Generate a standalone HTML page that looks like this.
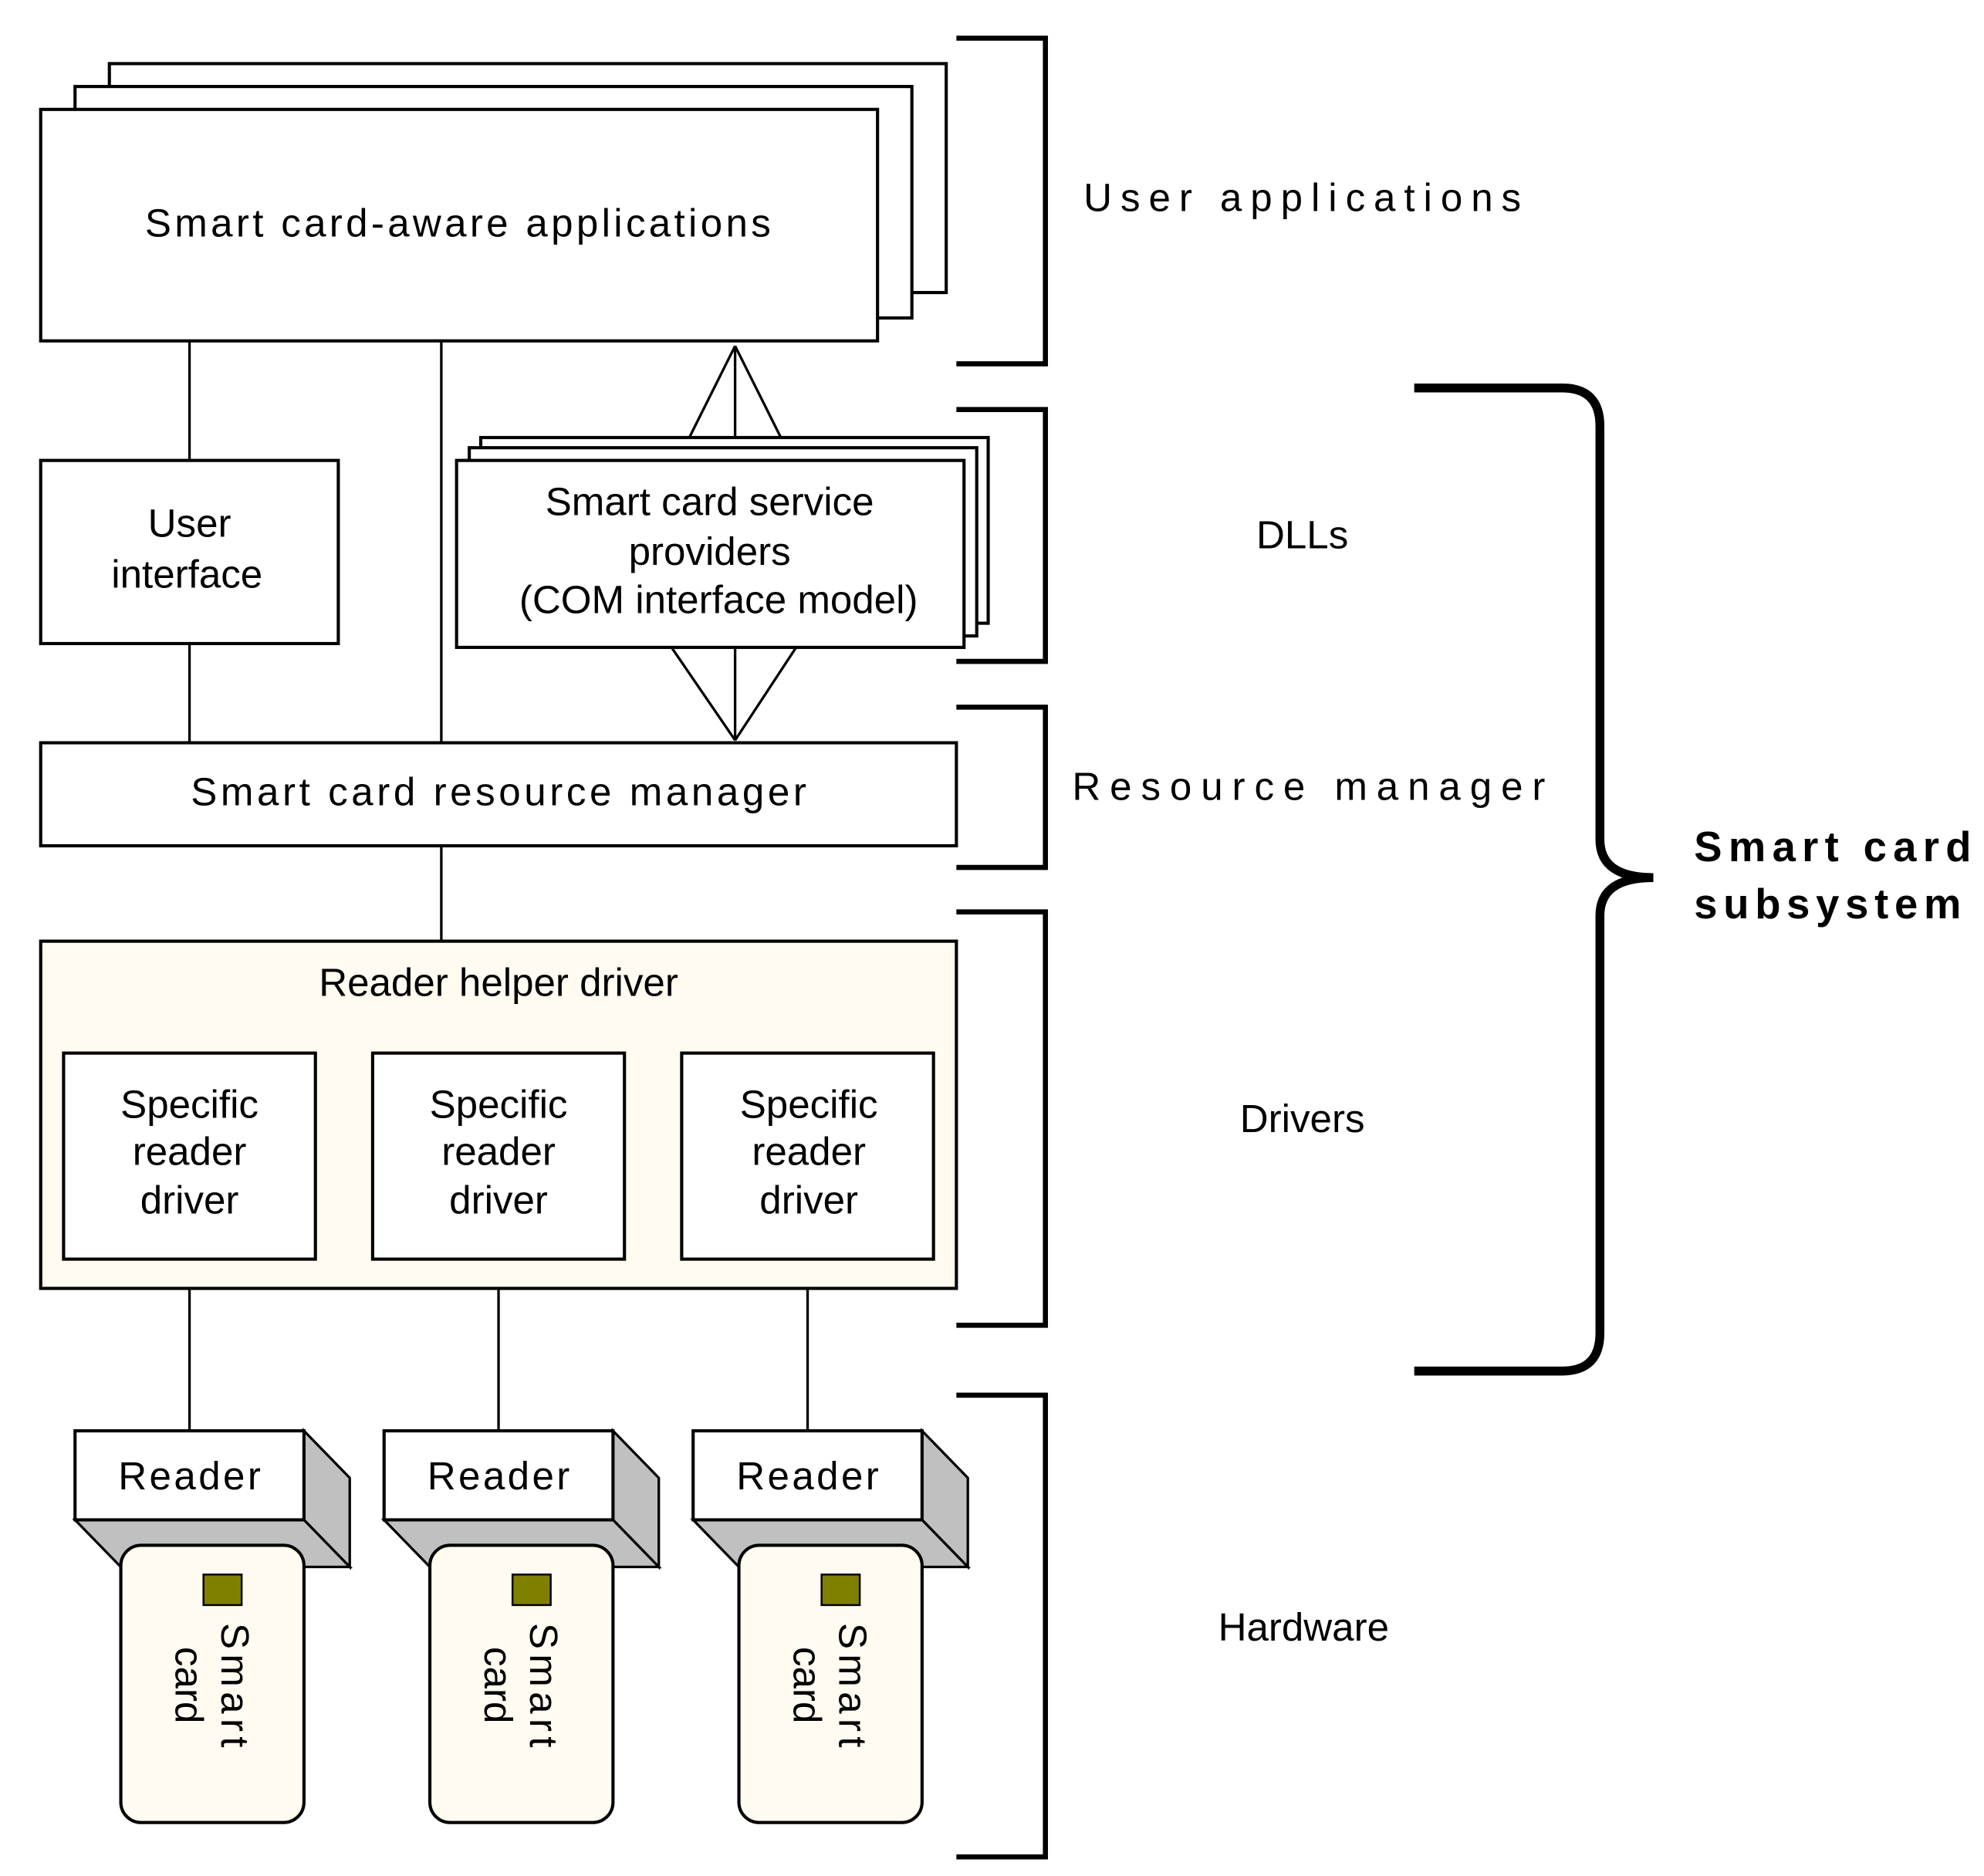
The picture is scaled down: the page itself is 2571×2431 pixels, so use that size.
<!DOCTYPE html>
<html><head><meta charset="utf-8"><style>html,body{margin:0;padding:0;background:#fff}svg{display:block}</style></head>
<body>
<svg width="2571" height="2431" viewBox="0 0 1560 1475" xmlns="http://www.w3.org/2000/svg" font-family="Liberation Sans, sans-serif" font-size="31">
<rect width="1560" height="1475" fill="#fff"/>
<g fill="#fff" stroke="#000" stroke-width="2.5">
<rect x="86" y="50" width="658" height="180"/>
<rect x="59" y="68" width="658" height="182"/>
<rect x="32" y="86" width="658" height="182"/>
<rect x="378" y="344" width="399" height="146"/>
<rect x="369" y="352" width="399" height="148"/>
<rect x="359" y="362" width="399" height="147"/>
<rect x="32" y="362" width="234" height="144"/>
<rect x="32" y="584" width="720" height="81"/>
<rect x="32" y="740" width="720" height="273" fill="#fffbf0"/>
<rect x="50" y="828" width="198" height="162"/>
<rect x="293" y="828" width="198" height="162"/>
<rect x="536" y="828" width="198" height="162"/>
</g>
<g stroke="#000" stroke-width="2" fill="none">
<line x1="149" y1="268" x2="149" y2="362"/><line x1="149" y1="506" x2="149" y2="584"/>
<line x1="347" y1="268" x2="347" y2="584"/><line x1="347" y1="665" x2="347" y2="740"/>
<line x1="578" y1="272" x2="578" y2="344"/><line x1="578" y1="272" x2="542" y2="344"/><line x1="578" y1="272" x2="614" y2="344"/>
<line x1="578" y1="509" x2="578" y2="582"/><line x1="528" y1="509" x2="578" y2="582"/><line x1="626" y1="509" x2="578" y2="582"/>
<line x1="149" y1="1013" x2="149" y2="1125"/><line x1="392" y1="1013" x2="392" y2="1125"/><line x1="635" y1="1013" x2="635" y2="1125"/>
</g>
<g stroke="#000" stroke-width="4" fill="none">
<polyline points="752,30 822,30 822,286 752,286"/>
<polyline points="752,322 822,322 822,520 752,520"/>
<polyline points="752,556 822,556 822,682 752,682"/>
<polyline points="752,717 822,717 822,1042 752,1042"/>
<polyline points="752,1097 822,1097 822,1460 752,1460"/>
</g>
<path d="M1112,305 L1228,305 Q1258,305 1258,335 L1258,660 Q1258,690 1300,690 Q1258,690 1258,720 L1258,1048 Q1258,1078 1228,1078 L1112,1078" stroke="#000" stroke-width="7" fill="none"/>
<g id="rd">
<polygon points="239,1125 275,1162 275,1232 239,1195" fill="#c0c0c0" stroke="#000" stroke-width="2"/>
<polygon points="59,1195 239,1195 275,1232 95,1232" fill="#c0c0c0" stroke="#000" stroke-width="2"/>
<rect x="59" y="1125" width="180" height="70" fill="#fff" stroke="#000" stroke-width="2.5"/>
<rect x="95" y="1215" width="144" height="218" rx="16" fill="#fffbf0" stroke="#000" stroke-width="2.5"/>
<rect x="160" y="1238" width="30" height="24" fill="#808000" stroke="#000" stroke-width="1.5"/>
<text x="149" y="1171" text-anchor="middle" textLength="112">Reader</text>
<text transform="translate(174,1325) rotate(90)" text-anchor="middle" textLength="98">Smart</text>
<text transform="translate(138,1325) rotate(90)" text-anchor="middle">card</text>
</g>
<use href="#rd" x="243"/>
<use href="#rd" x="486"/>
<g text-anchor="middle">
<text x="360" y="186" textLength="492">Smart card-aware applications</text>
<text x="149" y="422">User</text>
<text x="147" y="462">interface</text>
<text x="558" y="405">Smart card service</text>
<text x="558" y="444">providers</text>
<text x="565" y="482">(COM interface model)</text>
<text x="392" y="633" textLength="484">Smart card resource manager</text>
<text x="392" y="783">Reader helper driver</text>
<g id="sp"><text x="149" y="879">Specific</text><text x="149" y="916">reader</text><text x="149" y="954">driver</text></g>
<use href="#sp" x="243"/><use href="#sp" x="487"/>
<text x="1024" y="166" textLength="344">User applications</text>
<text x="1024" y="431">DLLs</text>
<text x="1029" y="629" textLength="372">Resource manager</text>
<text x="1024" y="890">Drivers</text>
<text x="1025" y="1290">Hardware</text>
</g>
<g font-weight="bold" font-size="33">
<text x="1332" y="677" textLength="218">Smart card</text>
<text x="1332" y="722" textLength="210">subsystem</text>
</g>
</svg>
</body></html>
